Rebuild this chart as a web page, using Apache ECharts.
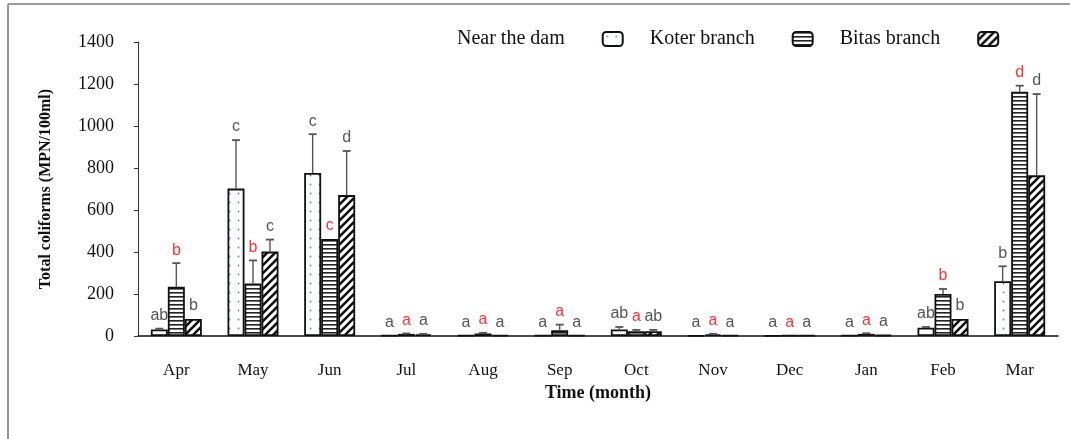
<!DOCTYPE html>
<html>
<head>
<meta charset="utf-8">
<script src="https://cdn.jsdelivr.net/npm/echarts@6/dist/echarts.min.js"></script>
<style>
  html, body { margin: 0; padding: 0; background: #fff; }
  #chart { width: 1070px; height: 439px; }
</style>
</head>
<body>
<div id="chart"></div>
<script>
// Monthly total coliform counts (MPN/100ml) at three sampling sites
const months = ['Apr', 'May', 'Jun', 'Jul', 'Aug', 'Sep', 'Oct', 'Nov', 'Dec', 'Jan', 'Feb', 'Mar'];
const yTicks = [0, 200, 400, 600, 800, 1000, 1200, 1400];

const nearDam      = [31, 702, 776, 3, 3, 3, 31, 2, 2, 3, 39, 261];
const nearDamErr   = [4, 231, 185, 0, 0, 0, 12, 0, 0, 0, 4, 71];
const koter        = [234, 250, 462, 10, 12, 27, 23, 8, 3, 10, 200, 1163];
const koterErr     = [113, 110, 0, 2, 3, 27, 6, 2, 0, 3, 24, 29];
const bitas        = [81, 402, 671, 8, 3, 3, 23, 3, 3, 5, 81, 765];
const bitasErr     = [0, 57, 210, 2, 0, 0, 6, 0, 0, 0, 0, 387];

// significance letters shown above each bar
const nearDamLetters = ['ab', 'c', 'c', 'a', 'a', 'a', 'ab', 'a', 'a', 'a', 'ab', 'b'];
const koterLetters   = ['b', 'b', 'c', 'a', 'a', 'a', 'a', 'a', 'a', 'a', 'b', 'd'];
const bitasLetters   = ['b', 'c', 'd', 'a', 'a', 'a', 'ab', 'a', 'a', 'a', 'b', 'd'];

const BAR_W = 17;
const SERIF = '"Liberation Serif", "Times New Roman", serif';
const SANS = '"Liberation Sans", Arial, sans-serif';

// fill patterns
function dotPattern() {
  const c = document.createElement('canvas');
  c.width = 9; c.height = 9;
  const g = c.getContext('2d');
  g.fillStyle = '#fff'; g.fillRect(0, 0, 9, 9);
  g.fillStyle = '#5a7fd6';
  g.beginPath(); g.arc(4.5, 4.5, 0.9, 0, Math.PI * 2); g.fill();
  return c;
}
function stripePattern() {
  const c = document.createElement('canvas');
  c.width = 4; c.height = 4;
  const g = c.getContext('2d');
  g.fillStyle = '#fff'; g.fillRect(0, 0, 4, 4);
  g.fillStyle = '#222'; g.fillRect(0, 0, 4, 1.6);
  return c;
}
function hatchPattern() {
  const s = 8;
  const c = document.createElement('canvas');
  c.width = s; c.height = s;
  const g = c.getContext('2d');
  g.fillStyle = '#fff'; g.fillRect(0, 0, s, s);
  g.strokeStyle = '#111'; g.lineWidth = 2.6;
  g.beginPath();
  g.moveTo(0, s); g.lineTo(s, 0);
  g.moveTo(-2, 2); g.lineTo(2, -2);
  g.moveTo(s - 2, s + 2); g.lineTo(s + 2, s - 2);
  g.stroke();
  return c;
}

function barSeries(name, values, pattern) {
  return {
    name: name,
    type: 'bar',
    barWidth: BAR_W,
    barGap: '0%',
    data: values,
    itemStyle: {
      color: { image: pattern, repeat: 'repeat' },
      borderColor: '#111',
      borderWidth: 1.8
    },
    z: 2
  };
}

// error whisker (upper only) plus the significance letter
function errSeries(values, errs, letters, letterColor, slot) {
  return {
    type: 'custom',
    z: 3,
    silent: true,
    data: values.map((v, i) => [i, v]),
    encode: { x: 0, y: 1 },
    renderItem: function (params, api) {
      const i = params.dataIndex;
      const cat = api.value(0);
      const base = api.coord([cat, values[i]]);
      const top = api.coord([cat, values[i] + errs[i]]);
      const x = base[0] + slot * BAR_W;
      const children = [];
      if (errs[i] > 0) {
        children.push({
          type: 'line',
          shape: { x1: x, y1: base[1], x2: x, y2: top[1] },
          style: { stroke: '#555', lineWidth: 1.4 }
        });
        children.push({
          type: 'line',
          shape: { x1: x - 4, y1: top[1], x2: x + 4, y2: top[1] },
          style: { stroke: '#555', lineWidth: 1.8 }
        });
      }
      children.push({
        type: 'text',
        style: {
          x: x, y: top[1] - 5,
          text: letters[i],
          fill: letterColor,
          font: '16px ' + SANS,
          textAlign: 'center',
          textVerticalAlign: 'bottom'
        }
      });
      return { type: 'group', children: children };
    }
  };
}

const chart = echarts.init(document.getElementById('chart'), null, { renderer: 'canvas' });

chart.setOption({
  backgroundColor: '#fff',
  animation: false,
  grid: { left: 138, right: 12, top: 42, bottom: 103, containLabel: false },
  legend: {
    data: ['Near the dam', 'Koter branch', 'Bitas branch'],
    left: 452,
    top: 24,
    align: 'right',
    itemWidth: 20,
    itemHeight: 14,
    itemGap: 26,
    icon: 'roundRect',
    textStyle: { fontFamily: SERIF, fontSize: 20, color: '#111', padding: [0, 33, 0, 0] }
  },
  xAxis: {
    type: 'category',
    data: months,
    name: 'Time (month)',
    nameLocation: 'middle',
    nameGap: 48,
    nameTextStyle: { fontFamily: SERIF, fontSize: 18, fontWeight: 'bold', color: '#111' },
    axisLine: { lineStyle: { color: '#111', width: 1.5 } },
    axisTick: { show: false },
    axisLabel: { fontFamily: SERIF, fontSize: 17, color: '#111', margin: 26 }
  },
  yAxis: {
    type: 'value',
    min: yTicks[0],
    max: yTicks[yTicks.length - 1],
    interval: yTicks[1] - yTicks[0],
    name: 'Total coliforms (MPN/100ml)',
    nameLocation: 'middle',
    nameGap: 84,
    nameTextStyle: { fontFamily: SERIF, fontSize: 16, fontWeight: 'bold', color: '#111' },
    axisLine: { show: true, lineStyle: { color: '#333', width: 1 } },
    axisTick: { show: true, length: 4, lineStyle: { color: '#333' } },
    splitLine: { show: false },
    axisLabel: {
      fontFamily: SERIF, fontSize: 18, color: '#111', margin: 24,
      formatter: function (v) { return String(v); }
    }
  },
  graphic: [
    { type: 'line', shape: { x1: 8, y1: 4, x2: 1070, y2: 4 }, style: { stroke: '#999', lineWidth: 2 } },
    { type: 'line', shape: { x1: 8, y1: 4, x2: 8, y2: 439 }, style: { stroke: '#999', lineWidth: 2 } }
  ],
  series: [
    barSeries('Near the dam', nearDam, dotPattern()),
    barSeries('Koter branch', koter, stripePattern()),
    barSeries('Bitas branch', bitas, hatchPattern()),
    errSeries(nearDam, nearDamErr, nearDamLetters, '#555', -1),
    errSeries(koter, koterErr, koterLetters, '#ff3333', 0),
    errSeries(bitas, bitasErr, bitasLetters, '#555', 1)
  ]
});
</script>
</body>
</html>
